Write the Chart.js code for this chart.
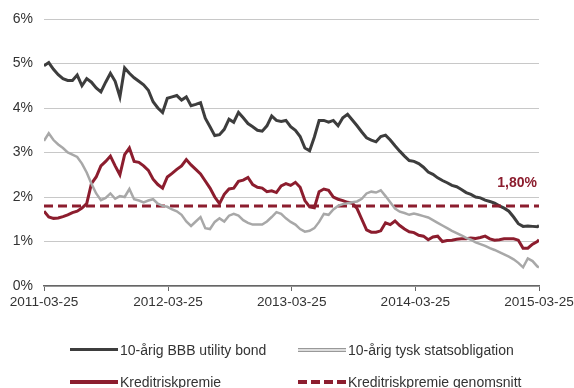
<!DOCTYPE html>
<html><head><meta charset="utf-8">
<script src="https://cdn.jsdelivr.net/npm/chart.js@4.4.1/dist/chart.umd.min.js"></script>
<style>
html,body{margin:0;padding:0;background:#fff;overflow:hidden;}
#wrap{position:relative;width:574px;height:388px;font-family:"Liberation Sans",Arial,sans-serif;overflow:hidden;}
canvas{position:absolute;left:0;top:0;}
.lg{position:absolute;font-size:14px;color:#333;white-space:nowrap;line-height:16px;}
.sw{position:absolute;height:0;}
</style></head><body>
<div id="wrap"><canvas id="c" width="574" height="388"></canvas><div id="legend"></div></div>
<script>
// ---- data (percent), sampled every 14 days from 2011-03-25, last point 2015-03-25 ----
const startDate = '2011-03-25';
const stepDays = 14;
const endDay = 1461;
const bbbBond = [4.95,5.02,4.87,4.75,4.66,4.62,4.62,4.74,4.50,4.66,4.58,4.45,4.36,4.58,4.78,4.60,4.25,4.90,4.78,4.68,
  4.60,4.52,4.40,4.14,4.00,3.90,4.22,4.25,4.28,4.18,4.25,4.05,4.08,4.12,3.77,3.58,3.38,3.40,3.52,3.75,
  3.68,3.90,3.78,3.65,3.58,3.50,3.48,3.60,3.82,3.72,3.70,3.72,3.58,3.50,3.36,3.10,3.04,3.35,3.72,3.72,
  3.68,3.72,3.60,3.78,3.86,3.73,3.60,3.46,3.33,3.28,3.24,3.36,3.39,3.28,3.15,3.03,2.92,2.82,2.80,2.75,
  2.67,2.56,2.51,2.43,2.37,2.32,2.26,2.23,2.17,2.10,2.06,2.00,1.98,1.93,1.90,1.86,1.80,1.75,1.68,1.55,
  1.40,1.34,1.35,1.34,1.33,1.36];
const germanBund = [3.26,3.43,3.28,3.18,3.10,3.00,2.95,2.90,2.75,2.55,2.30,2.08,1.93,1.98,2.08,1.96,2.02,2.00,2.18,1.95,
  1.92,1.88,1.92,1.95,1.85,1.80,1.78,1.72,1.68,1.60,1.45,1.35,1.45,1.55,1.30,1.28,1.44,1.52,1.45,1.58,
  1.62,1.58,1.48,1.42,1.38,1.38,1.38,1.45,1.55,1.66,1.62,1.52,1.44,1.38,1.28,1.22,1.24,1.30,1.44,1.62,
  1.60,1.72,1.80,1.84,1.86,1.88,1.90,1.96,2.08,2.12,2.10,2.15,2.02,1.88,1.74,1.67,1.64,1.60,1.63,1.60,
  1.57,1.54,1.48,1.42,1.36,1.30,1.24,1.19,1.14,1.08,1.04,0.98,0.94,0.90,0.85,0.81,0.76,0.71,0.66,0.60,
  0.52,0.42,0.62,0.56,0.44,0.42];
const creditPremium = [1.68,1.55,1.52,1.53,1.56,1.60,1.65,1.68,1.75,1.85,2.30,2.45,2.70,2.80,2.92,2.70,2.50,2.95,3.10,2.80,
  2.78,2.70,2.60,2.40,2.28,2.20,2.45,2.53,2.62,2.70,2.84,2.72,2.62,2.52,2.36,2.20,2.00,1.85,2.06,2.18,
  2.20,2.35,2.38,2.44,2.28,2.22,2.20,2.12,2.14,2.10,2.25,2.30,2.26,2.33,2.22,1.92,1.78,1.76,2.12,2.18,
  2.15,2.00,1.95,1.92,1.88,1.86,1.74,1.50,1.26,1.21,1.21,1.24,1.42,1.38,1.46,1.36,1.28,1.22,1.20,1.14,
  1.12,1.04,1.10,1.12,1.00,1.02,1.03,1.05,1.06,1.06,1.08,1.07,1.09,1.12,1.06,1.03,1.04,1.06,1.06,1.06,
  1.03,0.85,0.85,0.94,1.00,1.04];
const premiumAverage = [1.80, 1.80];
const tickDays = [0, 366, 731, 1096, 1461];
const tickLabels = ['2011-03-25','2012-03-25','2013-03-25','2014-03-25','2015-03-25'];
const avgLabel = '1,80%';
const seriesNames = ['10-årig BBB utility bond','10-årig tysk statsobligation','Kreditriskpremie','Kreditriskpremie genomsnitt'];

// x positions (days since start)
const days = bbbBond.map((_, i) => i === bbbBond.length - 1 ? endDay : i * stepDays);
const pts = arr => arr.map((v, i) => ({x: days[i], y: v}));

const DARK = '#3d3d3d', LIGHT = '#a8a8a8', RED = '#8c1d2e';
const FONT = '"Liberation Sans", Arial, sans-serif';

const avgLabelPlugin = {
  id: 'avgLabel',
  afterDatasetsDraw(chart) {
    const {ctx, chartArea, scales} = chart;
    ctx.save();
    ctx.font = 'bold 14px ' + FONT;
    ctx.fillStyle = RED;
    ctx.textAlign = 'right';
    ctx.textBaseline = 'middle';
    ctx.fillText(avgLabel, chartArea.right - 2, scales.y.getPixelForValue(premiumAverage[0]) - 23);
    ctx.restore();
  }
};

new Chart(document.getElementById('c'), {
  type: 'line',
  data: {
    datasets: [
      {label: seriesNames[1], data: pts(germanBund), borderColor: LIGHT, borderWidth: 2.5, pointRadius: 0, tension: 0},
      {label: seriesNames[2], data: pts(creditPremium), borderColor: RED, borderWidth: 3, pointRadius: 0, tension: 0},
      {label: seriesNames[3], data: [{x: 0, y: premiumAverage[0]}, {x: endDay, y: premiumAverage[1]}], borderColor: RED, borderWidth: 3, borderDash: [9, 5], pointRadius: 0},
      {label: seriesNames[0], data: pts(bbbBond), borderColor: DARK, borderWidth: 3, pointRadius: 0, tension: 0}
    ]
  },
  options: {
    responsive: false,
    animation: false,
    layout: {padding: {top: 19, right: 35, left: 0, bottom: 0}},
    plugins: {legend: {display: false}, tooltip: {enabled: false}},
    scales: {
      x: {
        type: 'linear', min: 0, max: endDay,
        afterBuildTicks: s => { s.ticks = tickDays.map(v => ({value: v})); },
        afterFit: s => { s.height = 102; s.paddingLeft = 0; s.paddingRight = 0; },
        ticks: {autoSkip: false, maxRotation: 0, padding: 3, color: '#333', font: {family: FONT, size: 13.6},
          callback: v => tickLabels[tickDays.indexOf(v)]},
        grid: {drawOnChartArea: false, drawTicks: true, tickLength: 5, color: '#666'},
        border: {display: true, color: '#666', width: 1.5}
      },
      y: {
        min: 0, max: 6,
        afterFit: s => { s.width = 44; s.paddingTop = 0; s.paddingBottom = 0; },
        ticks: {stepSize: 1, padding: 11, color: '#333', font: {family: FONT, size: 14}, callback: v => v + '%'},
        grid: {drawTicks: false, color: '#c8c8c8', lineWidth: 1},
        border: {display: false}
      }
    }
  },
  plugins: [avgLabelPlugin]
});

// ---- HTML legend (2 x 2) ----
const legendItems = [
  {name: seriesNames[0], x: 70, y: 350, css: 'border-top:3.5px solid ' + DARK},
  {name: seriesNames[1], x: 298, y: 350, css: 'border-top:1px solid #999;border-bottom:1px solid #999;height:2px;background:#ddd'},
  {name: seriesNames[2], x: 70, y: 382, css: 'border-top:4px solid ' + RED},
  {name: seriesNames[3], x: 298, y: 382, css: 'height:4px;background:repeating-linear-gradient(90deg,' + RED + ' 0 9px,transparent 9px 13px)'}
];
const lg = document.getElementById('legend');
legendItems.forEach(it => {
  const sw = document.createElement('div');
  sw.className = 'sw';
  sw.style.cssText = 'left:' + it.x + 'px;top:' + (it.y - 2) + 'px;width:48px;' + it.css;
  lg.appendChild(sw);
  const t = document.createElement('div');
  t.className = 'lg';
  t.style.left = (it.x + 50) + 'px';
  t.style.top = (it.y - 8) + 'px';
  t.textContent = it.name;
  lg.appendChild(t);
});
</script>
</body></html>
